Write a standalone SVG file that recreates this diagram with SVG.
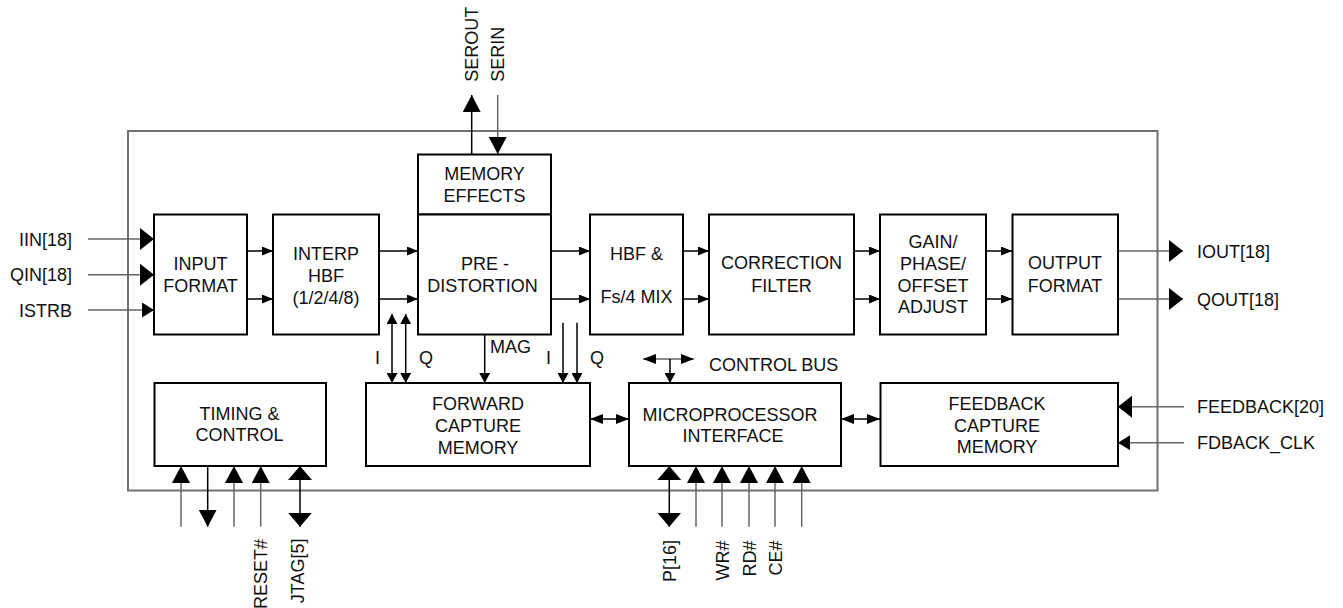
<svg xmlns="http://www.w3.org/2000/svg" width="1343" height="608" viewBox="0 0 1343 608">
<style>
.box{fill:#fff;stroke:#000;stroke-width:2}
.outer{fill:none;stroke:#707070;stroke-width:2}
.t{font-family:"Liberation Sans",Arial,sans-serif;font-size:18px;fill:#111;text-anchor:middle}
.l{font-family:"Liberation Sans",Arial,sans-serif;font-size:18px;fill:#111}
.w{stroke:#000;stroke-width:1.5;fill:none}
.g{stroke:#666;stroke-width:1.5;fill:none}
</style>
<defs>
<marker id="sm" markerUnits="userSpaceOnUse" markerWidth="11" markerHeight="9" refX="11" refY="4.5" orient="auto-start-reverse"><path d="M0,0 L11,4.5 L0,9 z" fill="#000"/></marker>
<marker id="iq" markerUnits="userSpaceOnUse" markerWidth="10" markerHeight="11" refX="10" refY="5.5" orient="auto-start-reverse"><path d="M0,0 L10,5.5 L0,11 z" fill="#000"/></marker>
<marker id="cb" markerUnits="userSpaceOnUse" markerWidth="13" markerHeight="10" refX="13" refY="5" orient="auto-start-reverse"><path d="M0,0 L13,5 L0,10 z" fill="#000"/></marker>
<marker id="lg" markerUnits="userSpaceOnUse" markerWidth="14" markerHeight="22" refX="14" refY="11" orient="auto-start-reverse"><path d="M0,0 L14,11 L0,22 z" fill="#000"/></marker>
<marker id="md" markerUnits="userSpaceOnUse" markerWidth="12" markerHeight="15" refX="12" refY="7.5" orient="auto-start-reverse"><path d="M0,0 L12,7.5 L0,15 z" fill="#000"/></marker>
<marker id="pin" markerUnits="userSpaceOnUse" markerWidth="17" markerHeight="18" refX="17" refY="9" orient="auto-start-reverse"><path d="M0,0 L17,9 L0,18 z" fill="#000"/></marker>
<marker id="wd" markerUnits="userSpaceOnUse" markerWidth="14" markerHeight="24" refX="14" refY="12" orient="auto-start-reverse"><path d="M0,0 L14,12 L0,24 z" fill="#000"/></marker>
</defs>

<rect class="outer" x="128" y="131" width="1029.5" height="359.5"/>

<g id="connectors">
  <!-- serial -->
  <line class="w" x1="471.7" y1="154" x2="471.7" y2="95" marker-end="url(#pin)"/>
  <line class="g" x1="497.7" y1="95" x2="497.7" y2="154" marker-end="url(#pin)"/>
  <!-- inputs -->
  <line class="g" x1="88" y1="239" x2="154" y2="239" marker-end="url(#lg)"/>
  <line class="g" x1="88" y1="274.7" x2="154" y2="274.7" marker-end="url(#lg)"/>
  <line class="g" x1="88" y1="310" x2="154" y2="310" marker-end="url(#md)"/>
  <!-- datapath -->
  <line class="w" x1="247" y1="251" x2="273" y2="251" marker-end="url(#sm)"/>
  <line class="w" x1="247" y1="299" x2="273" y2="299" marker-end="url(#sm)"/>
  <line class="w" x1="379" y1="251" x2="418" y2="251" marker-end="url(#sm)"/>
  <line class="w" x1="379" y1="299" x2="418" y2="299" marker-end="url(#sm)"/>
  <line class="w" x1="551" y1="251" x2="590" y2="251" marker-end="url(#sm)"/>
  <line class="w" x1="551" y1="299" x2="590" y2="299" marker-end="url(#sm)"/>
  <line class="w" x1="683" y1="251" x2="709" y2="251" marker-end="url(#sm)"/>
  <line class="w" x1="683" y1="299" x2="709" y2="299" marker-end="url(#sm)"/>
  <line class="w" x1="854" y1="251" x2="880" y2="251" marker-end="url(#sm)"/>
  <line class="w" x1="854" y1="299" x2="880" y2="299" marker-end="url(#sm)"/>
  <line class="w" x1="986" y1="251" x2="1012" y2="251" marker-end="url(#sm)"/>
  <line class="w" x1="986" y1="299" x2="1012" y2="299" marker-end="url(#sm)"/>
  <!-- outputs -->
  <line class="g" x1="1118" y1="251" x2="1183" y2="251" marker-end="url(#lg)"/>
  <line class="g" x1="1118" y1="299" x2="1183" y2="299" marker-end="url(#lg)"/>
  <!-- feedback -->
  <line class="g" x1="1184" y1="406.7" x2="1118" y2="406.7" marker-end="url(#lg)"/>
  <line class="g" x1="1184" y1="442.7" x2="1118" y2="442.7" marker-end="url(#md)"/>
  <!-- capture I/Q -->
  <line class="w" x1="392" y1="314" x2="392" y2="383" marker-start="url(#iq)" marker-end="url(#iq)"/>
  <line class="w" x1="405.7" y1="314" x2="405.7" y2="383" marker-start="url(#iq)" marker-end="url(#iq)"/>
  <line class="w" x1="484.7" y1="334" x2="484.7" y2="383" marker-end="url(#iq)"/>
  <line class="w" x1="563" y1="322.7" x2="563" y2="383" marker-end="url(#iq)"/>
  <line class="w" x1="577" y1="322.7" x2="577" y2="383" marker-end="url(#iq)"/>
  <!-- bus links -->
  <line class="w" x1="590" y1="419" x2="629" y2="419" marker-start="url(#cb)" marker-end="url(#cb)"/>
  <line class="w" x1="841" y1="419" x2="880" y2="419" marker-start="url(#cb)" marker-end="url(#cb)"/>
  <line class="g" x1="643" y1="359" x2="694" y2="359" marker-start="url(#cb)" marker-end="url(#cb)"/>
  <line class="w" x1="670" y1="359" x2="670" y2="383" marker-end="url(#iq)"/>
  <!-- timing pins -->
  <line class="g" x1="181" y1="526.7" x2="181" y2="466" marker-end="url(#pin)"/>
  <line class="w" x1="207.7" y1="466" x2="207.7" y2="526.7" marker-end="url(#pin)"/>
  <line class="g" x1="234" y1="526.7" x2="234" y2="466" marker-end="url(#pin)"/>
  <line class="g" x1="260.7" y1="526.7" x2="260.7" y2="466" marker-end="url(#pin)"/>
  <line class="w" x1="300" y1="466" x2="300" y2="526.7" marker-start="url(#wd)" marker-end="url(#wd)"/>
  <!-- micro pins -->
  <line class="w" x1="669.3" y1="466" x2="669.3" y2="526.7" marker-start="url(#wd)" marker-end="url(#wd)"/>
  <line class="g" x1="696" y1="526.7" x2="696" y2="466" marker-end="url(#pin)"/>
  <line class="g" x1="722" y1="526.7" x2="722" y2="466" marker-end="url(#pin)"/>
  <line class="g" x1="749" y1="526.7" x2="749" y2="466" marker-end="url(#pin)"/>
  <line class="g" x1="775" y1="526.7" x2="775" y2="466" marker-end="url(#pin)"/>
  <line class="g" x1="801.7" y1="526.7" x2="801.7" y2="466" marker-end="url(#pin)"/>
</g>

<g id="memory-effects"><rect class="box" x="418" y="154.5" width="133" height="60"/><text class="t" x="484.5" y="180">MEMORY</text><text class="t" x="484.5" y="201.7">EFFECTS</text></g>
<g id="input-format"><rect class="box" x="154" y="214.5" width="93" height="120"/><text class="t" x="200.5" y="269.5">INPUT</text><text class="t" x="200.5" y="291.5">FORMAT</text></g>
<g id="interp-hbf"><rect class="box" x="273" y="214.5" width="106" height="120"/><text class="t" x="326" y="260">INTERP</text><text class="t" x="326" y="282">HBF</text><text class="t" x="326" y="303.5">(1/2/4/8)</text></g>
<g id="pre-distortion"><rect class="box" x="418" y="214.5" width="133" height="120"/><text class="t" x="485" y="270">PRE -</text><text class="t" x="482.5" y="291.7">DISTORTION</text></g>
<g id="hbf-mix"><rect class="box" x="590" y="214.5" width="93" height="120"/><text class="t" x="636.5" y="260">HBF &amp;</text><text class="t" x="636.5" y="303">Fs/4 MIX</text></g>
<g id="correction-filter"><rect class="box" x="709" y="214.5" width="145" height="120"/><text class="t" x="781.5" y="269.3">CORRECTION</text><text class="t" x="781.5" y="291.7">FILTER</text></g>
<g id="gain-phase"><rect class="box" x="880" y="214.5" width="106" height="120"/><text class="t" x="933" y="248">GAIN/</text><text class="t" x="933" y="270">PHASE/</text><text class="t" x="933" y="291.7">OFFSET</text><text class="t" x="933" y="313">ADJUST</text></g>
<g id="output-format"><rect class="box" x="1012.5" y="214.5" width="105.5" height="120"/><text class="t" x="1065" y="269.3">OUTPUT</text><text class="t" x="1065" y="291.7">FORMAT</text></g>
<g id="timing-control"><rect class="box" x="154.5" y="383" width="171.5" height="83"/><text class="t" x="239.5" y="420">TIMING &amp;</text><text class="t" x="239.5" y="441">CONTROL</text></g>
<g id="forward-capture"><rect class="box" x="366" y="383" width="224" height="83"/><text class="t" x="478" y="410">FORWARD</text><text class="t" x="478" y="431.7">CAPTURE</text><text class="t" x="478" y="454">MEMORY</text></g>
<g id="microprocessor"><rect class="box" x="629" y="383" width="212" height="83"/><text class="t" x="730" y="420.7">MICROPROCESSOR</text><text class="t" x="733" y="441.7">INTERFACE</text></g>
<g id="feedback-capture"><rect class="box" x="880.5" y="383" width="237.5" height="83"/><text class="t" x="997" y="410">FEEDBACK</text><text class="t" x="997" y="431.7">CAPTURE</text><text class="t" x="997" y="453.3">MEMORY</text></g>

<g id="labels">
  <text class="l" x="72" y="245.5" text-anchor="end">IIN[18]</text>
  <text class="l" x="72" y="281" text-anchor="end">QIN[18]</text>
  <text class="l" x="72" y="316.5" text-anchor="end">ISTRB</text>
  <text class="l" x="1197" y="257.5">IOUT[18]</text>
  <text class="l" x="1197" y="305.5">QOUT[18]</text>
  <text class="l" x="1197" y="413">FEEDBACK[20]</text>
  <text class="l" x="1197" y="449">FDBACK_CLK</text>
  <text class="l" x="375" y="364">I</text>
  <text class="l" x="419" y="364">Q</text>
  <text class="l" x="490" y="353.3">MAG</text>
  <text class="l" x="546" y="364">I</text>
  <text class="l" x="590" y="364">Q</text>
  <text class="l" x="709" y="371">CONTROL BUS</text>
  <text class="l" transform="translate(478.3,81.7) rotate(-90)">SEROUT</text>
  <text class="l" transform="translate(504.3,81.7) rotate(-90)">SERIN</text>
  <text class="l" text-anchor="end" transform="translate(266.7,539) rotate(-90)">RESET#</text>
  <text class="l" text-anchor="end" transform="translate(303.5,538.5) rotate(-90)">JTAG[5]</text>
  <text class="l" text-anchor="end" transform="translate(676,540) rotate(-90)">P[16]</text>
  <text class="l" text-anchor="end" transform="translate(729,540.5) rotate(-90)">WR#</text>
  <text class="l" text-anchor="end" transform="translate(755.7,540.5) rotate(-90)">RD#</text>
  <text class="l" text-anchor="end" transform="translate(781.7,540.5) rotate(-90)">CE#</text>
</g>
</svg>
